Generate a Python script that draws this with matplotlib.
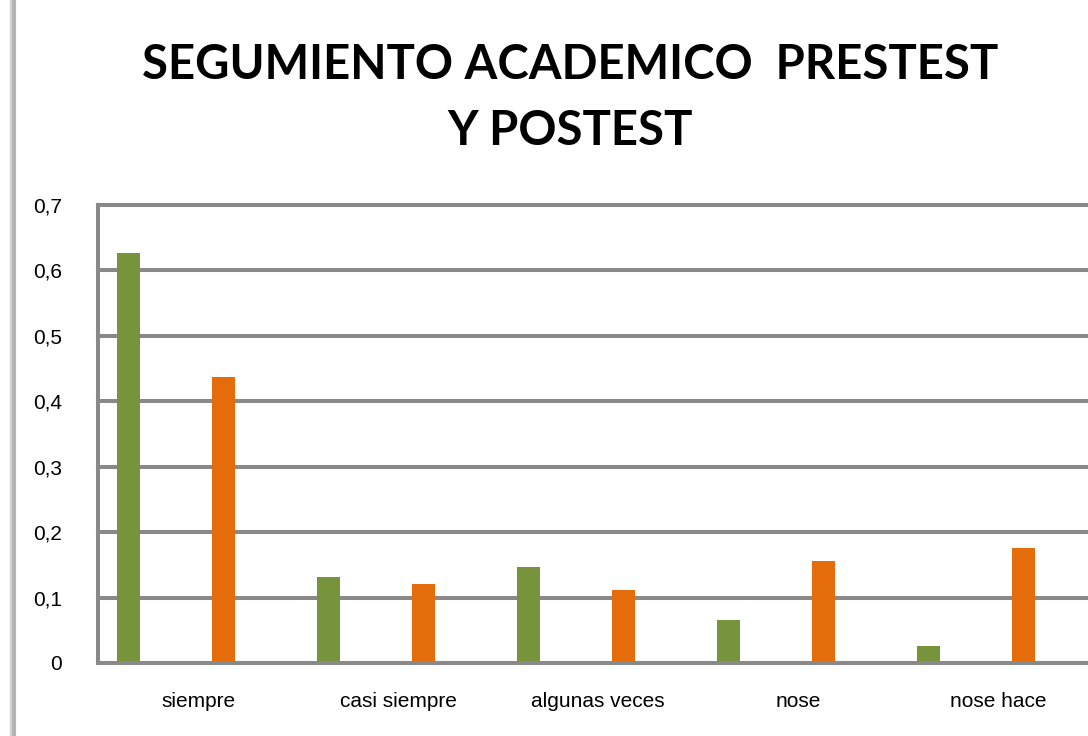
import numpy as np
import matplotlib
import matplotlib.pyplot as plt
from matplotlib.lines import Line2D

# data
categorias = ["siempre", "casi siempre", "algunas veces", "nose", "nose hace"]
pretest = [0.627, 0.131, 0.147, 0.066, 0.026]
postest = [0.437, 0.121, 0.112, 0.156, 0.176]
yticks = [0, 0.1, 0.2, 0.3, 0.4, 0.5, 0.6, 0.7]

verde = "#77933C"
naranja = "#E46C0A"
gris = "#898989"

fig = plt.figure(figsize=(10.88, 7.36), dpi=100)
ax = fig.add_axes([98/1088, 1 - 663/736, 1 - 98/1088, (663 - 205)/736])

x = np.arange(len(categorias))
w = 0.115
ax.bar(x - 0.3475, pretest, width=w, color=verde, zorder=3)
ax.bar(x + 0.1275, postest, width=w, color=naranja, zorder=3)

ax.set_xlim(-0.5, 4.45)
ax.set_ylim(0, 0.7)
ax.set_yticks(yticks)
ax.set_yticklabels([("%g" % v).replace(".", ",") for v in yticks],
                   fontsize=15, family="Liberation Sans")
ax.set_xticks(x)
ax.set_xticklabels(categorias, fontsize=15, family="Liberation Sans")
ax.tick_params(axis="y", length=0, pad=26)
ax.tick_params(axis="x", length=0, pad=21)

ax.grid(axis="y", color=gris, linewidth=2.9, zorder=0)
for gl in ax.yaxis.get_gridlines():
    gl.set_clip_on(False)
for s in ["top", "right", "bottom"]:
    ax.spines[s].set_visible(False)
ax.spines["left"].set_color(gris)
ax.spines["left"].set_linewidth(2.9)
ax.axhline(0, color=gris, linewidth=2.9, zorder=4, clip_on=False)

fig.text(570/1088, 1 - 98/736, "SEGUMIENTO ACADEMICO  PRESTEST\nY POSTEST",
         ha="center", va="center", fontsize=34, fontweight="bold",
         family="Lato", linespacing=1.6)

# gray strip at the left edge of the screenshot
fig.add_artist(Line2D([10.5/1088, 10.5/1088], [0, 1], color="#d4d4d8",
                      linewidth=2.5, transform=fig.transFigure))
fig.add_artist(Line2D([14/1088, 14/1088], [0, 1], color="#b4b4b8",
                      linewidth=3, transform=fig.transFigure))

fig.savefig("out.png", dpi=100)
